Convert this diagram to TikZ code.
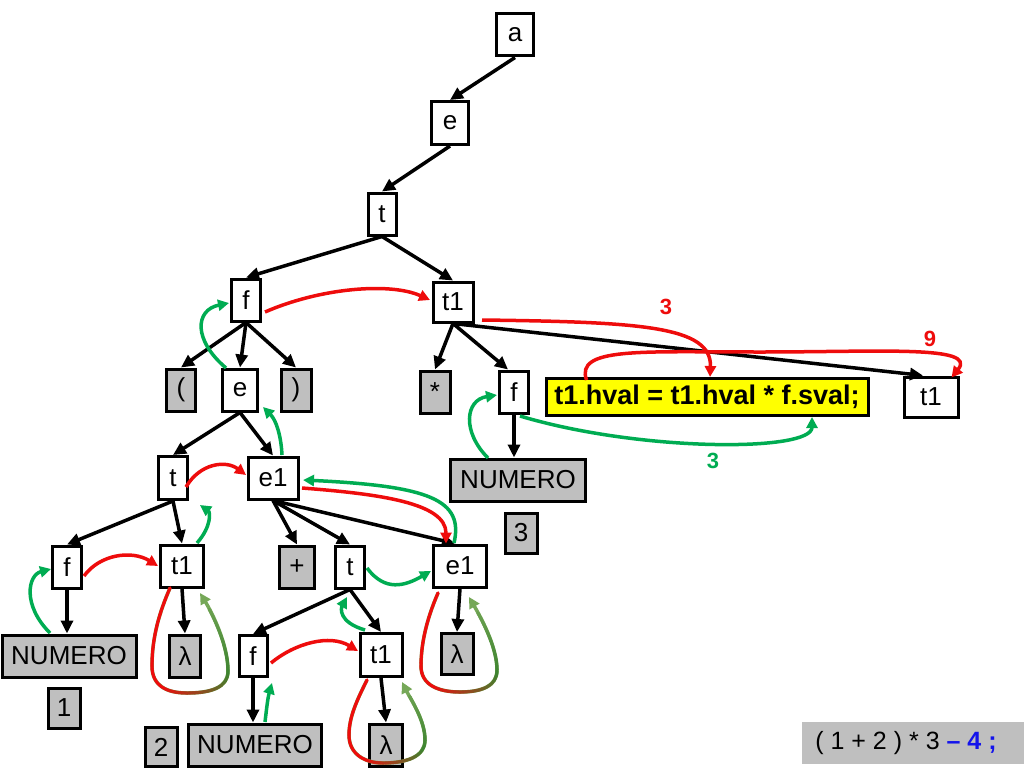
\documentclass[tikz,border=0pt]{standalone}
\usepackage{fontspec}
\setmainfont{Liberation Sans}
\usetikzlibrary{arrows.meta,calc,decorations.markings}
\definecolor{rd}{RGB}{238,12,12}
\definecolor{gn}{RGB}{0,172,82}
\definecolor{og}{RGB}{62,132,48}
\definecolor{lg}{RGB}{118,168,88}
\definecolor{gr}{RGB}{191,191,191}
\definecolor{bl}{RGB}{20,20,235}
\definecolor{yl}{RGB}{255,255,0}
\begin{document}
\begin{tikzpicture}[x=1pt,y=-1pt,
  box/.style={draw=black,line width=3pt,fill=white,inner sep=0pt,minimum height=42pt,font=\fontsize{26}{30}\selectfont},
  term/.style={box,fill=gr},
  edge/.style={line width=3.5pt,-{Triangle[length=13pt,width=12pt]}},
  ra/.style={rd,line width=3.5pt,-{Triangle[length=11pt,width=11pt]}},
  ga/.style={gn,line width=3.5pt,-{Triangle[length=11pt,width=11pt]}},
  lbl/.style={font=\fontsize{22}{24}\selectfont\bfseries},
  gradloop/.style={lg,line width=3.5pt,-{Triangle[length=11pt,width=11pt]},
    postaction={decorate,decoration={markings,
      mark=between positions 0 and 0.93 step 0.8pt with {
        \pgfmathsetmacro\pp{\pgfkeysvalueof{/pgf/decoration/mark info/distance from start}/\pgfdecoratedpathlength}
        \pgfmathtruncatemacro\ca{\pp<0.40 ? 100 : (\pp<0.68 ? 100*(0.68-\pp)/0.28 : 0)}
        \pgfmathtruncatemacro\cb{\pp<0.68 ? 100 : 100*(1-\pp)/0.32}
        \colorlet{mixc}{og!\cb!lg}
        \fill[rd!\ca!mixc] (0,0) circle (1.75pt);
      }}}}
]
\useasboundingbox (0,0) rectangle (1024,768);

% ---------- nodes ----------
\node[box,minimum width=37pt] (a) at (515,35) {a};
\node[box,minimum width=37pt,minimum height=43pt] (e0) at (450,123) {e};
\node[box,minimum width=28pt] (t0) at (382,214) {t};
\node[box,minimum width=29pt] (f0) at (246,300) {f};
\node[box,minimum width=40pt,minimum height=40pt] (t1a) at (453,302) {t1};
\node[term,minimum width=29pt] (lp) at (181,390) {(};
\node[box,minimum width=35pt] (e1n) at (240,390) {e};
\node[term,minimum width=30pt] (rp) at (296,390) {)};
\node[term,minimum width=30pt] (star) at (435,392) {*};
\node[box,minimum width=29pt] (f1) at (514,392) {f};
\node[box,fill=yl,minimum width=322pt,minimum height=37pt,font=\fontsize{27}{30}\selectfont\bfseries] (code) at (707,397) {t1.hval = t1.hval * f.sval;};
\node[box,minimum width=54pt,minimum height=40pt] (t1b) at (931,397) {t1};
\node[box,minimum width=29pt,minimum height=43pt] (t2) at (173,478) {t};
\node[box,minimum width=50pt] (e1a) at (273,478) {e1};
\node[term,minimum width=135pt] (num3) at (518,480) {NUMERO};
\node[term,minimum width=32pt,minimum height=40pt] (three) at (521,533) {3};
\node[box,minimum width=29pt] (f2) at (67,567) {f};
\node[box,minimum width=43pt] (t1c) at (182,566) {t1};
\node[term,minimum width=35pt] (plus) at (297,567) {+};
\node[box,minimum width=29pt] (t3) at (350,567) {t};
\node[box,minimum width=53pt] (e1b) at (460,566) {e1};
\node[term,minimum width=134pt] (num1) at (69,656) {NUMERO};
\node[term,minimum width=31pt] (lam1) at (185,656) {λ};
\node[box,minimum width=28pt,minimum height=41pt] (f3) at (253,656) {f};
\node[box,minimum width=42pt,minimum height=43pt] (t1d) at (381,655) {t1};
\node[term,minimum width=32pt,minimum height=41pt] (lam2) at (457,654) {λ};
\node[term,minimum width=32pt,minimum height=40pt] (one) at (64,708) {1};
\node[term,minimum width=32pt,minimum height=39pt] (two) at (161,747) {2};
\node[term,minimum width=133pt] (num2) at (255,745) {NUMERO};
\node[term,minimum width=33pt] (lam3) at (386,745) {λ};

\node[fill=gr,inner sep=0pt,minimum width=222pt,minimum height=42pt,font=\fontsize{25}{30}\selectfont] (expr) at (913,743) {\hspace*{-14pt}( 1 + 2 ) * 3 {\color{bl}\bfseries – 4 ;}};

% ---------- tree edges ----------
\draw[edge] (a.south) -- (e0.north);
\draw[edge] (e0.south) -- (t0.north);
\draw[edge] (t0.south) -- (f0.north);
\draw[edge] (t0.south) -- (t1a.north);
\draw[edge] (f0.south) -- (lp.north);
\draw[edge] (f0.south) -- (e1n.north);
\draw[edge] (f0.south) -- (rp.north);
\draw[edge] (t1a.south) -- (star.north);
\draw[edge] (t1a.south) -- ($(f1.north)+(-6,0)$);
\draw[edge] (t1a.south) -- ($(t1b.north)+(-8,0)$);
\draw[edge] (f1.south) -- (f1.south |- num3.north);
\draw[edge] (e1n.south) -- (t2.north);
\draw[edge] (e1n.south) -- (e1a.north);
\draw[edge] (t2.south) -- (f2.north);
\draw[edge] (t2.south) -- (t1c.north);
\draw[edge] (e1a.south) -- (plus.north);
\draw[edge] (e1a.south) -- (t3.north);
\draw[edge] (e1a.south) -- ($(e1b.north)+(-5,0)$);
\draw[edge] (f2.south) -- (f2.south |- num1.north);
\draw[edge] (t1c.south) -- (lam1.north);
\draw[edge] (t3.south) -- (f3.north);
\draw[edge] (t3.south) -- (t1d.north);
\draw[edge] (e1b.south) -- (lam2.north);
\draw[edge] (f3.south) -- (f3.south |- num2.north);
\draw[edge] (t1d.south) -- (lam3.north);

% ---------- red (inherited) arrows ----------
\draw[ra] ($(f0)+(19,12)$) .. controls (320,288) and (390,282) .. ($(t1a)+(-23,-2)$);
\draw[ra] ($(t1a)+(29,18)$) .. controls (640,322) and (712,326) .. ($(code.north)+(3,0)$);
\draw[ra] ($(code.north west)+(42,3)$) .. controls (575,347) and (640,352) .. (760,352) .. controls (880,352) and (978,345) .. ($(t1b.north east)+(-8,2)$);
\draw[ra] ($(t2)+(13,9)$) .. controls (200,463) and (226,460) .. ($(e1a)+(-27,-3)$);
\draw[ra] ($(e1a)+(29,10)$) .. controls (380,494) and (446,503) .. ($(e1b.north)+(-14,0)$);
\draw[ra] ($(f2)+(17,9)$) .. controls (100,554) and (132,550) .. ($(t1c)+(-24,0)$);
\draw[ra] ($(f3)+(18,7)$) .. controls (295,643) and (330,634) .. ($(t1d)+(-23,-4)$);

% ---------- green (synthesized) arrows ----------
\draw[ga] ($(e1n)+(-14,-22)$) .. controls (193,340) and (195,310) .. ($(f0)+(-17,3)$);
\draw[ga] ($(e1a)+(9,-23)$) .. controls (281,435) and (276,420) .. ($(e1n)+(23,17)$);
\draw[ga] ($(num3)+(-30,-22)$) .. controls (462,432) and (465,400) .. ($(f1)+(-17,3)$);
\draw[ga] ($(f1)+(6,24)$) .. controls (640,452) and (812,452) .. ($(code.south)+(105,0)$);
\draw[ga] ($(e1b)+(-6,-23)$) .. controls (464,500) and (430,486) .. ($(e1a)+(30,2)$);
\draw[ga] ($(t1c)+(15,-23)$) .. controls (212,526) and (210,512) .. ($(t2)+(27,27)$);
\draw[ga] ($(num1)+(-19,-23)$) .. controls (22,605) and (28,575) .. ($(f2)+(-16,2)$);
\draw[ga] ($(t3)+(17,1)$) .. controls (385,592) and (405,586) .. ($(e1b)+(-29,5)$);
\draw[ga] ($(t1d)+(-16,-25)$) .. controls (338,622) and (341,608) .. ($(t3)+(-3,30)$);
\draw[ga] ($(num2)+(10,-23)$) .. controls (267,705) and (268,697) .. ($(f3)+(19,27)$);

% ---------- red-to-green loops ----------
\begin{scope}[shift={(t1c.center)}]
\draw[gradloop] (-12,22) .. controls (-22,45) and (-30,70) .. (-30,100) .. controls (-30,120) and (-15,127) .. (5,127) .. controls (28,127) and (46,122) .. (46,105) .. controls (46,80) and (32,50) .. (18,27);
\end{scope}
\begin{scope}[shift={(e1b.center)}]
\draw[gradloop] (-22,27) .. controls (-32,50) and (-39,75) .. (-39,100) .. controls (-39,120) and (-20,126) .. (0,126) .. controls (22,126) and (37,120) .. (37,104) .. controls (37,80) and (20,50) .. (9,31);
\end{scope}
\begin{scope}[shift={(t1d.center)}]
\draw[gradloop] (-14,25) .. controls (-24,45) and (-32,62) .. (-32,80) .. controls (-32,100) and (-15,108) .. (2,108) .. controls (25,108) and (44,102) .. (44,85) .. controls (44,65) and (30,45) .. (21,27);
\end{scope}

% ---------- value labels ----------
\node[lbl,text=rd] (l3r) at (666,307) {3};
\node[lbl,text=rd] (l9) at (930,339) {9};
\node[lbl,text=gn] (l3g) at (713,461) {3};
\end{tikzpicture}
\end{document}
